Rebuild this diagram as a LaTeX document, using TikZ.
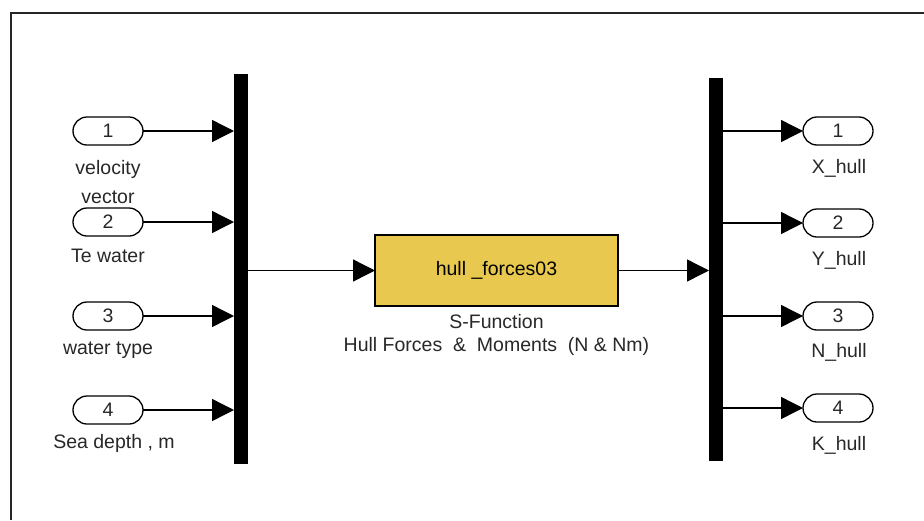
\documentclass[tikz,border=0pt]{standalone}
\usepackage{fontspec}
\setmainfont{Liberation Sans}
\usetikzlibrary{arrows.meta,shapes.misc}
\definecolor{blockyellow}{RGB}{232,200,78}
\definecolor{txtgray}{RGB}{40,40,40}
\tikzset{
  x=1pt, y=-1pt,
  port/.style={draw=black, line width=1.3pt, rounded rectangle, minimum width=70pt, minimum height=28pt, inner sep=0pt, outer sep=0pt, font=\fontsize{19.5}{21}\selectfont, text=txtgray},
  lbl/.style={font=\fontsize{19.5}{29}\selectfont, text=txtgray, inner sep=0pt, align=center},
  busbar/.style={fill=black, draw=none, minimum width=14pt, inner sep=0pt, outer sep=0pt},
  sig/.style={line width=1.4pt, -{Triangle[length=22pt,width=22pt]}},
  fblock/.style={draw=black, line width=1.3pt, fill=blockyellow, minimum width=243pt, minimum height=71pt, inner sep=0pt, outer sep=0pt, font=\fontsize{19.5}{21}\selectfont}
}
\begin{document}
\begin{tikzpicture}
\useasboundingbox (0,0) rectangle (924,520);
\fill[white] (0,0) rectangle (924,520);
\draw[line width=2pt, black!85] (11,520) -- (11,13) -- (924,13);

% bus bars
\node[busbar, minimum height=390pt] (lbar) at (241,269) {};
\node[busbar, minimum height=383pt] (rbar) at (716,269.5) {};

% inports
\node[port] (p1) at (108,131) {1};
\node[port] (p2) at (108,222) {2};
\node[port] (p3) at (108,316) {3};
\node[port] (p4) at (108,410) {4};
\node[lbl] (l1) at (108,182) {velocity\\vector};
\node[lbl] (l2) at (108,256) {Te water};
\node[lbl] (l3) at (108,350) {water type};
\node[lbl] (l4) at (114,443) {Sea depth , m};

\foreach \p in {p1,p2,p3,p4}
  \draw[sig] (\p.east) -- (\p.east -| lbar.west);

% block
\node[fblock] (blk) at (496.5,270.5) {hull \_forces03};
\node[lbl] (bl1) at (496.5,322) {S-Function};
\node[lbl] (bl2) at (496.5,346) {Hull Forces\ \ \&\ \ Moments\ \ (N \& Nm)};
\draw[sig] (lbar.east |- blk.west) -- (blk.west);
\draw[sig] (blk.east) -- (blk.east -| rbar.west);

% outports
\node[port] (o1) at (838,131) {1};
\node[port] (o2) at (838,223) {2};
\node[port] (o3) at (838,316) {3};
\node[port] (o4) at (838,408) {4};
\node[lbl] (m1) at (839,168) {X\_hull};
\node[lbl] (m2) at (839,260) {Y\_hull};
\node[lbl] (m3) at (839,352) {N\_hull};
\node[lbl] (m4) at (839,445) {K\_hull};

\foreach \p in {o1,o2,o3,o4}
  \draw[sig] (rbar.east |- \p.west) -- (\p.west);
\end{tikzpicture}
\end{document}
